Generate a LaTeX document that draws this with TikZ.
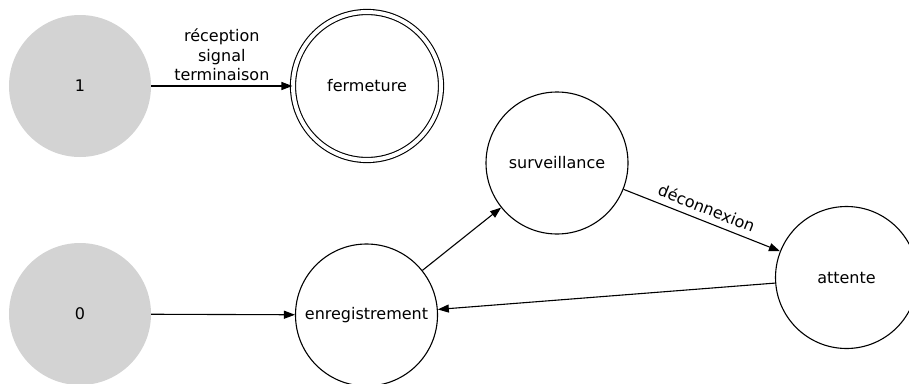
\documentclass[tikz,border=0pt]{standalone}
\usepackage{fontspec}
\setmainfont{DejaVu Sans}
\usetikzlibrary{arrows.meta}
\begin{document}
\begin{tikzpicture}[x=1pt,y=-1pt,
  every node/.style={font=\fontsize{16}{19.5}\selectfont},
  state/.style={circle,draw=black,line width=1.1pt,minimum size=142pt,inner sep=0pt},
  startstate/.style={circle,fill={rgb,255:red,211;green,211;blue,211},minimum size=142pt,inner sep=0pt},
  finalstate/.style={state,double,double distance=4pt,minimum size=148pt},
  edge/.style={draw=black,line width=1.1pt,-{Triangle[length=11pt,width=8pt]}}]
\useasboundingbox (0,0) rectangle (909,383);
\node[startstate] (one) at (80,86) {1};
\node[startstate] (zero) at (80,314) {0};
\node[finalstate] (fermeture) at (367,86) {fermeture};
\node[state] (surveillance) at (557,163) {surveillance};
\node[state] (enregistrement) at (366.5,315) {enregistrement};
\node[state] (attente) at (846.5,277.5) {attente};
\draw[edge] (one) -- node[above=1pt,align=center] {réception\\signal\\terminaison} (fermeture);
\draw[edge] (zero) -- (enregistrement);
\draw[edge] (enregistrement) -- (surveillance);
\draw[edge] (surveillance) -- node[sloped,above=3pt] {déconnexion} (attente);
\draw[edge] (attente) -- (enregistrement);
\end{tikzpicture}
\end{document}
